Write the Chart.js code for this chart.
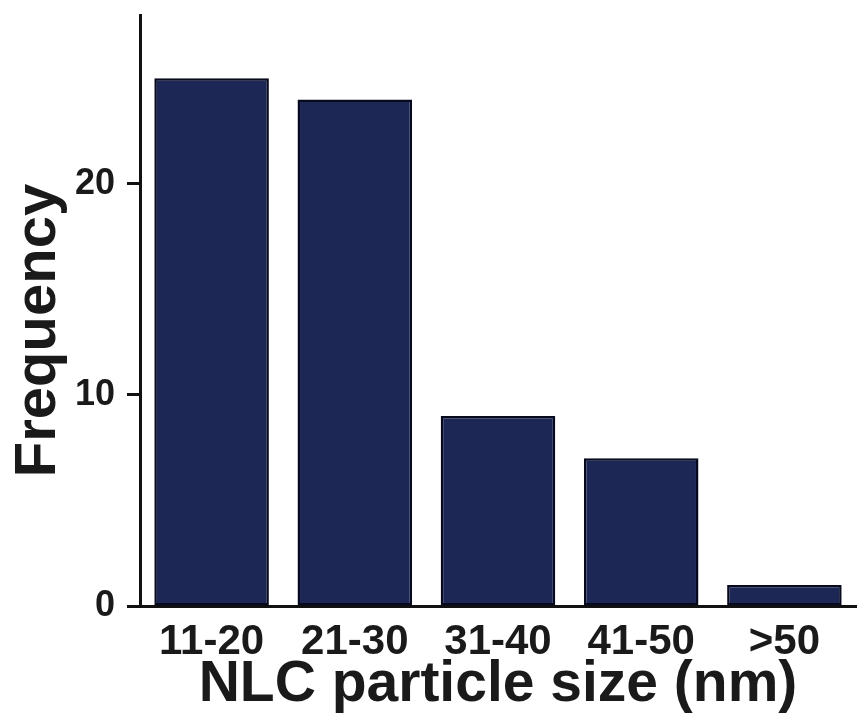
<!DOCTYPE html>
<html>
<head>
<meta charset="utf-8">
<script src="https://cdn.jsdelivr.net/npm/chart.js@4"></script>
<style>
  html, body { margin: 0; padding: 0; background: #fff; }
  #wrap { width: 858px; height: 717px; }
</style>
</head>
<body>
<div id="wrap"><canvas id="balkenDiagramm" width="858" height="717"></canvas></div>
<script>
// Daten
const kategorien = ['11-20', '21-30', '31-40', '41-50', '>50'];
const haeufigkeit = [25, 24, 9, 7, 1];
const yTicks = [0, 10, 20];

const schrift = "'Liberation Sans', Arial, sans-serif";
const balkenDiagramm = document.querySelector('#balkenDiagramm');

// Y-Achsentitel selbst zeichnen (im Original leicht nach unten versetzt)
const yTitel = {
  id: 'yTitel',
  afterDraw(chart) {
    const ctx = chart.ctx;
    const area = chart.chartArea;
    ctx.save();
    ctx.translate(39, (area.top + area.bottom) / 2 + 20);
    ctx.rotate(-Math.PI / 2);
    ctx.font = 'bold 58px ' + schrift;
    ctx.fillStyle = '#1a1a1a';
    ctx.textAlign = 'center';
    ctx.textBaseline = 'middle';
    ctx.fillText('Frequency', 0, 0);
    ctx.restore();
  }
};

new Chart(balkenDiagramm, {
  type: 'bar',
  data: {
    labels: kategorien,
    datasets: [{
      label: 'Frequency',
      data: haeufigkeit,
      backgroundColor: '#1c2756',
      borderColor: '#070a1f',
      borderWidth: 2.5,
      borderSkipped: false,
      categoryPercentage: 1.0,
      barPercentage: 0.8
    }]
  },
  options: {
    responsive: false,
    animation: false,
    layout: { padding: { top: 15, right: 2, left: 0, bottom: 0 } },
    plugins: {
      legend: { display: false },
      tooltip: { enabled: false }
    },
    scales: {
      x: {
        grid: { display: false, drawTicks: false },
        border: { display: true, color: '#111', width: 3 },
        ticks: {
          color: '#1a1a1a',
          padding: 11,
          font: { family: schrift, size: 42, weight: 'bold' },
          maxRotation: 0,
          autoSkip: false
        },
        title: {
          display: true,
          text: 'NLC particle size (nm)',
          color: '#1a1a1a',
          font: { family: schrift, size: 57, weight: 'bold', lineHeight: 1 },
          padding: { top: 0, bottom: 3 }
        },
        afterFit: (scale) => {
          scale.height = 111;
          scale.paddingLeft = 0;
          scale.paddingRight = 0;
        }
      },
      y: {
        min: 0,
        max: 28,
        grid: {
          drawOnChartArea: false,
          drawTicks: true,
          tickLength: 13,
          tickWidth: 3,
          color: '#111'
        },
        border: { display: true, color: '#111', width: 3 },
        ticks: {
          stepSize: 10,
          includeBounds: false,
          padding: 12,
          color: '#1a1a1a',
          font: { family: schrift, size: 36, weight: 'bold' },
          callback: (v) => yTicks.includes(v) ? String(v) : ''
        },
        title: { display: false },
        afterFit: (scale) => {
          scale.width = 140;
          scale.paddingTop = 0;
          scale.paddingBottom = 0;
        }
      }
    }
  },
  plugins: [yTitel]
});
</script>
</body>
</html>
